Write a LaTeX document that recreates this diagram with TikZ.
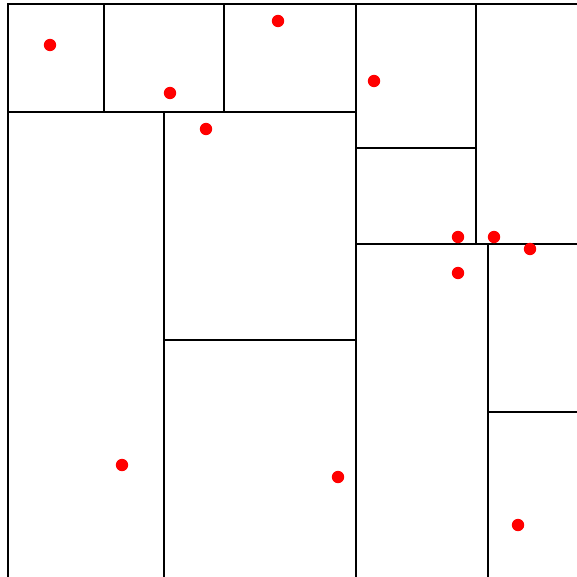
\documentclass[tikz,border=0pt]{standalone}
\begin{document}
\begin{tikzpicture}[x=1pt,y=-1pt,
  wall/.style={line width=1.8pt,black,line cap=rect},
  pt/.style={fill=red,draw=none}]
\useasboundingbox (0,0) rectangle (577,577);
% outer frame (top and left)
\draw[wall] (8,577) -- (8,4) -- (577,4);
% top row
\draw[wall] (8,112) -- (356,112);
\draw[wall] (104,4) -- (104,112);
\draw[wall] (224,4) -- (224,112);
% main verticals
\draw[wall] (356,4) -- (356,577);
\draw[wall] (476,4) -- (476,244);
\draw[wall] (356,148) -- (476,148);
\draw[wall] (356,244) -- (577,244);
\draw[wall] (164,112) -- (164,577);
\draw[wall] (164,340) -- (356,340);
\draw[wall] (488,244) -- (488,577);
\draw[wall] (488,412) -- (577,412);
% points
\foreach \p in {(50,45),(170,93),(278,21),(374,81),(206,129),(458,237),(494,237),(530,249),(458,273),(122,465),(338,477),(518,525)}
  \fill[pt] \p circle (6.2);
\end{tikzpicture}
\end{document}
